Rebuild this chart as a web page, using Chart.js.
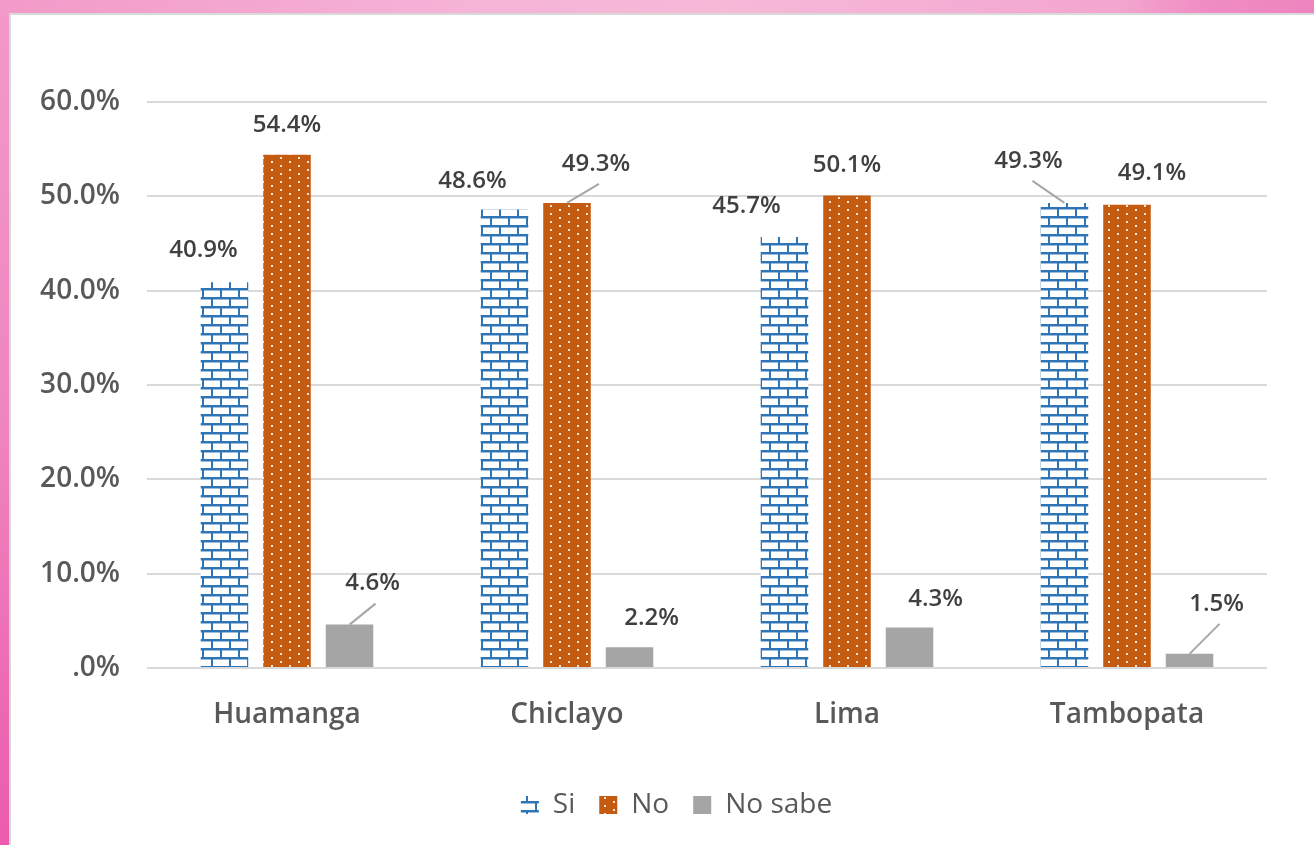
<!DOCTYPE html>
<html>
<head>
<meta charset="utf-8">
<script src="https://cdn.jsdelivr.net/npm/chart.js@4.4.0/dist/chart.umd.min.js"></script>
<style>
  html, body { margin: 0; padding: 0; }
  body { width: 1314px; height: 845px; position: relative; overflow: hidden; background: #fff; }
  .band-top { position: absolute; left: 0; top: 0; width: 1314px; height: 13px;
    background: linear-gradient(90deg, #f29ac9 0%, #f5b3d6 35%, #f6b9d8 55%, #f3a6cf 85%, #ef8cc3 92%, #ee84bf 100%); }
  .band-left { position: absolute; left: 0; top: 0; width: 9px; height: 845px;
    background: linear-gradient(180deg, #f29ac9 0%, #ef85c0 50%, #ec5bae 100%); }
  .panel { position: absolute; left: 9px; top: 13px; width: 1303px; height: 830px;
    background: #fff; border-top: 2px solid #d9d9d9; border-left: 2px solid #d9d9d9; }
  #chart { position: absolute; left: 0; top: 0; }
</style>
</head>
<body>
<div class="band-top"></div>
<div class="band-left"></div>
<div class="panel"></div>
<canvas id="chart" width="1314" height="845"></canvas>
<script>
const categories = ['Huamanga', 'Chiclayo', 'Lima', 'Tambopata'];
const seriesNames = ['Si', 'No', 'No sabe'];
const siValues = [40.9, 48.6, 45.7, 49.3];
const noValues = [54.4, 49.3, 50.1, 49.1];
const noSabeValues = [4.6, 2.2, 4.3, 1.5];
const yTickLabels = ['.0%', '10.0%', '20.0%', '30.0%', '40.0%', '50.0%', '60.0%'];

// label placement relative to top of each bar: [dx, dy, leader]
const labelOffsets = [
  [[-21, -32, false], [-32, -28, false], [-38, -31, false], [-36, -42, true]],
  [[0, -30, false], [29, -39, true], [0, -30, false], [25, -32, false]],
  [[23, -41, true], [22, -29, false], [26, -28, false], [27, -50, true]]
];
const legendShift = 33;

function brickPattern() {
  const c = document.createElement('canvas');
  c.width = 18; c.height = 18;
  const g = c.getContext('2d');
  g.fillStyle = '#ffffff';
  g.fillRect(0, 0, 18, 18);
  g.fillStyle = '#9dbbdc';
  g.fillRect(0, 2, 18, 1);
  g.fillRect(0, 11, 18, 1);
  g.fillStyle = '#2e75b6';
  g.fillRect(0, 0, 18, 2);
  g.fillRect(0, 9, 18, 2);
  g.fillRect(4, 2, 2, 7);
  g.fillRect(13, 11, 2, 7);
  return g.createPattern(c, 'repeat');
}

function dotPattern() {
  const c = document.createElement('canvas');
  c.width = 18; c.height = 8;
  const g = c.getContext('2d');
  g.fillStyle = '#c55a11';
  g.fillRect(0, 0, 18, 8);
  g.fillStyle = '#f8e6da';
  g.fillRect(1, 1, 2, 2);
  g.fillRect(10, 5, 2, 2);
  return g.createPattern(c, 'repeat');
}

const valueLabels = {
  id: 'valueLabels',
  afterLayout(chart) {
    chart.legend.left += legendShift;
    chart.legend.right += legendShift;
  },
  afterDatasetsDraw(chart) {
    const ctx = chart.ctx;
    ctx.save();
    ctx.font = '600 24px "Open Sans"';
    ctx.textAlign = 'center';
    ctx.textBaseline = 'middle';
    chart.data.datasets.forEach((ds, di) => {
      chart.getDatasetMeta(di).data.forEach((bar, i) => {
        const off = labelOffsets[di][i];
        const lx = bar.x + off[0];
        const ly = bar.y + off[1];
        if (off[2]) {
          ctx.strokeStyle = '#a6a6a6';
          ctx.lineWidth = 2;
          ctx.beginPath();
          ctx.moveTo(bar.x, bar.y);
          ctx.lineTo(off[0] > 0 ? lx + 3 : lx + 4, ly + 20);
          ctx.stroke();
        }
        ctx.fillStyle = '#404040';
        ctx.fillText(ds.data[i].toFixed(1) + '%', lx, ly);
      });
    });
    ctx.restore();
  }
};

new Chart(document.getElementById('chart'), {
  type: 'bar',
  data: {
    labels: categories,
    datasets: [
      { label: seriesNames[0], data: siValues, backgroundColor: brickPattern() },
      { label: seriesNames[1], data: noValues, backgroundColor: dotPattern() },
      { label: seriesNames[2], data: noSabeValues, backgroundColor: '#a5a5a5' }
    ]
  },
  options: {
    responsive: false,
    animation: false,
    categoryPercentage: 0.67,
    barPercentage: 0.76,
    layout: { padding: { top: 102, left: 20, right: 47, bottom: 16 } },
    plugins: {
      legend: {
        position: 'bottom',
        labels: {
          color: '#595959',
          font: { family: 'Open Sans', size: 28, weight: '500' },
          boxWidth: 18,
          boxHeight: 18,
          padding: 24
        }
      },
      tooltip: { enabled: false }
    },
    scales: {
      x: {
        afterFit(s) { s.height = 99; },
        grid: { display: false },
        border: { display: false },
        ticks: {
          color: '#595959',
          font: { family: 'Open Sans', size: 28, weight: '600' },
          padding: 22
        }
      },
      y: {
        min: 0,
        max: 60,
        afterFit(s) { s.width = 127; },
        grid: { color: '#d9d9d9', lineWidth: 2, drawTicks: false },
        border: { display: false },
        ticks: {
          stepSize: 10,
          color: '#595959',
          font: { family: 'Open Sans', size: 28, weight: '600' },
          padding: 27,
          callback: (v, i) => yTickLabels[i]
        }
      }
    }
  },
  plugins: [valueLabels]
});
</script>
</body>
</html>
